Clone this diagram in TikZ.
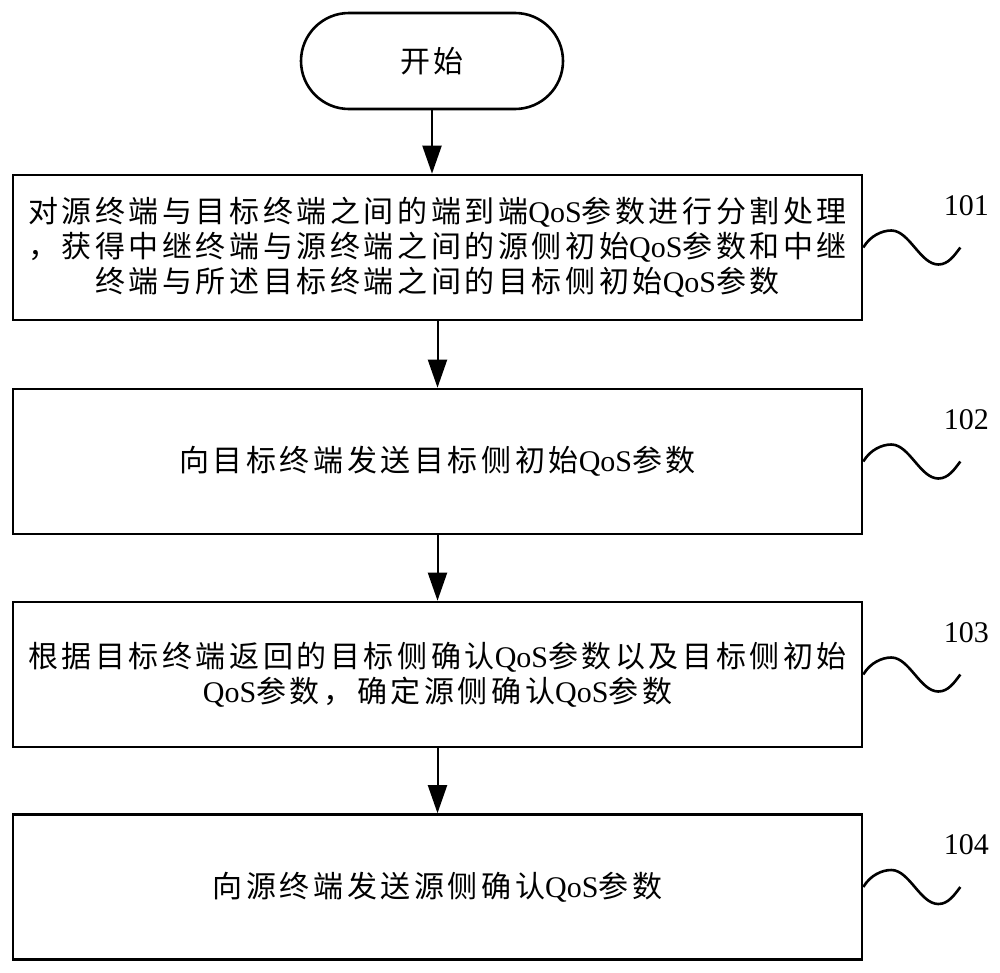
\documentclass[tikz,border=0pt]{standalone}
\usepackage{fontspec}
\setmainfont{Liberation Serif}
\newfontfamily\cjk{Noto Sans CJK SC}[LetterSpace=12]
\newcommand\QoSt{{\rmfamily QoS}}
\usetikzlibrary{arrows.meta}
\begin{document}
\begin{tikzpicture}[x=1pt,y=-1pt,
  box/.style={draw,line width=2.6pt,minimum width=849pt,minimum height=145pt,inner sep=0pt,align=center,font=\cjk\fontsize{30}{35}\selectfont},
  flow/.style={line width=2pt,-{Triangle[length=28pt,width=19pt]}},
  wave/.style={line width=2.6pt},
  tag/.style={font=\fontsize{30}{30}\selectfont}]
\useasboundingbox (0,0) rectangle (1000,972);
\node[box, minimum width=262pt, minimum height=96pt, rounded corners=48pt] (start) at (432,61) {开始};
\node[box] (b1) at (437.5,247.5) {对源终端与目标终端之间的端到端\QoSt 参数进行分割处理\\，获得中继终端与源终端之间的源侧初始\QoSt 参数和中继\\终端与所述目标终端之间的目标侧初始\QoSt 参数};
\node[box] (b2) at (437.5,461.5) {向目标终端发送目标侧初始\QoSt 参数};
\node[box] (b3) at (437.5,674.5) {根据目标终端返回的目标侧确认\QoSt 参数以及目标侧初始\\\QoSt 参数，确定源侧确认\QoSt 参数};
\node[box] (b4) at (437.5,887) {向源终端发送源侧确认\QoSt 参数};
\draw[flow] (start.south) -- (start.south |- b1.north);
\draw[flow] (b1.south) -- (b2.north);
\draw[flow] (b2.south) -- (b3.north);
\draw[flow] (b3.south) -- (b4.north);
\foreach \b/\t in {b1/101,b2/102,b3/103,b4/104}{
  \draw[wave] (\b.east) .. controls +(7,-12) and +(-9,0) .. ++(28,-17) .. controls +(18,0) and +(-18,0) .. ++(47,34) .. controls +(10,0) and +(-6,8) .. ++(22,-17);
  \node[tag] (l\t) at ([shift={(103,-42)}]\b.east) {\t};
}
\end{tikzpicture}
\end{document}
